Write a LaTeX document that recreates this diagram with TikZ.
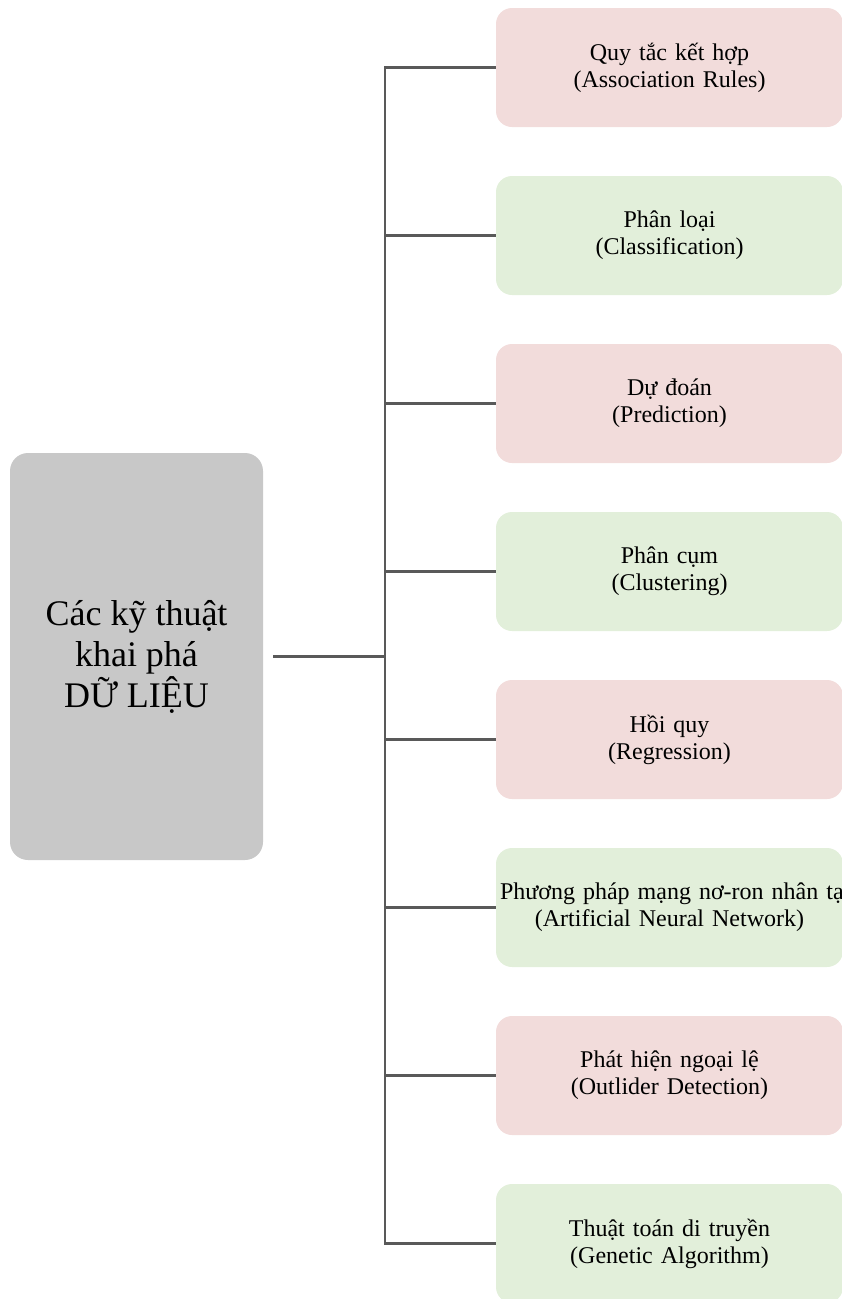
\documentclass[tikz,border=0pt]{standalone}
\usepackage{fontspec}
\setmainfont{Liberation Serif}
\usetikzlibrary{calc}
\definecolor{hubgray}{HTML}{C8C8C8}
\definecolor{leafpink}{HTML}{F2DCDB}
\definecolor{leafgreen}{HTML}{E2EFDA}
\definecolor{wiregray}{HTML}{595959}
\tikzset{
  hub/.style={fill=hubgray, rounded corners=18pt, minimum width=253pt, minimum height=407pt, inner sep=0pt, align=center, font=\fontsize{36}{41}\selectfont},
  leaf/.style={fill=#1, rounded corners=16pt, minimum width=347pt, minimum height=119pt, text width=339pt, inner xsep=4pt, inner ysep=0pt, align=center, font=\fontsize{24}{27}\selectfont},
  wire/.style={draw=wiregray, line width=2.6pt}
}
\begin{document}
\begin{tikzpicture}[x=1pt, y=-1pt]
    \useasboundingbox (0,0) rectangle (842,1299);
    \node[hub] (hub) at (136.5,656.5) {Các kỹ thuật\\khai phá\\DỮ LIỆU};
    \coordinate (joint) at (385,656.5);
    \foreach \i/\first/\second/\col in {%
        1/Quy tắc kết hợp/(Association Rules)/leafpink,
        2/Phân loại/(Classification)/leafgreen,
        3/Dự đoán/(Prediction)/leafpink,
        4/Phân cụm/(Clustering)/leafgreen,
        5/Hồi quy/(Regression)/leafpink,
        6/Phương pháp mạng nơ-ron nhân tạo/(Artificial Neural Network)/leafgreen,
        7/Phát hiện ngoại lệ/(Outlider Detection)/leafpink,
        8/Thuật toán di truyền/(Genetic Algorithm)/leafgreen}
        \node[leaf=\col] (leaf\i) at (669.5,{67.5+168*(\i-1)}) {\mbox{\first}\\\mbox{\second}};
    \draw[wire] ([xshift=10pt]hub.east) -- (joint); %vom Zentrum zum Stamm
    \draw[wire] (leaf1.west) -- (leaf1.west -| joint) -- (leaf8.west -| joint) -- (leaf8.west); %Stamm
    \foreach \i in {2,...,7}
        \draw[wire] (leaf\i.west -| joint) -- (leaf\i.west);
\end{tikzpicture}
\end{document}
